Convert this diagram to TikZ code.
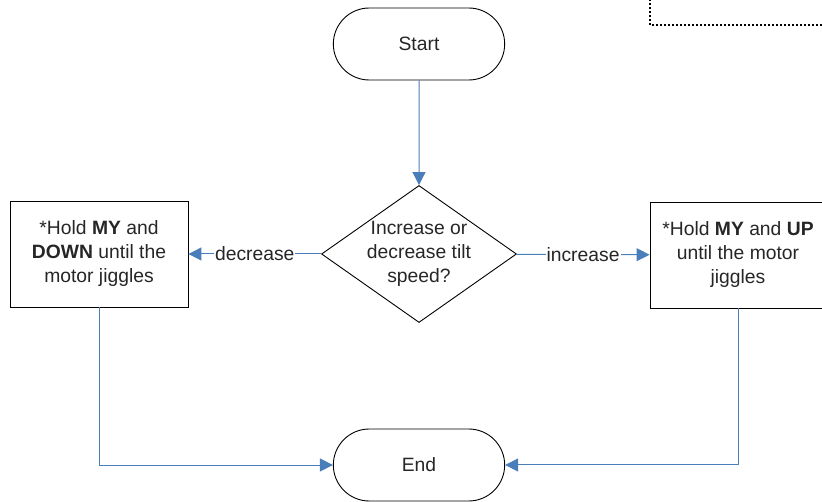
\documentclass[tikz,border=0pt]{standalone}
\usepackage{fontspec}
\setmainfont{Liberation Sans}
\usetikzlibrary{shapes.geometric,shapes.misc,arrows.meta}
\definecolor{flowblue}{HTML}{4A7EBB}
\definecolor{inkgray}{HTML}{262626}

\begin{document}
\begin{tikzpicture}[x=1pt,y=-1pt,
    font=\fontsize{19.3}{24}\selectfont,text=inkgray,
    term/.style={draw,line width=0.9pt,rounded rectangle,minimum width=178pt,minimum height=72pt},
    proc/.style={draw,line width=0.9pt,align=center,minimum width=#1,minimum height=106pt},
    decision/.style={draw,line width=0.9pt,diamond,minimum width=195pt,minimum height=137pt,inner sep=0pt},
    flow/.style={draw=flowblue,line width=1pt,-{Triangle[length=13pt,width=13pt]}},
    lbl/.style={fill=white,inner sep=1pt}]
    \useasboundingbox(0,0)rectangle(822,502);

    \node[term](start)at(419,44){Start};
    \node[decision](dec)at(419,254){};
    \node[align=center]at(dec){Increase or\\decrease tilt\\speed?};
    \node[proc=178pt](lbox)at(99,254){*Hold \textbf{MY} and\\\textbf{DOWN} until the\\motor jiggles};
    \node[proc=176pt](rbox)at(738,255){*Hold \textbf{MY} and \textbf{UP}\\until the motor\\jiggles};
    \node[term](end)at(419,465){End};

    \draw[flow](start)--(dec);
    \draw[flow](dec)--node[lbl]{decrease}(lbox);
    \draw[flow](dec)--node[lbl]{increase}(rbox);
    \draw[flow](lbox)|-(end);
    \draw[flow](rbox)|-(end);

    \draw[line width=1.5pt,dash pattern=on 2pt off 2pt](650,-5)--(650,25)--(830,25);
\end{tikzpicture}
\end{document}
